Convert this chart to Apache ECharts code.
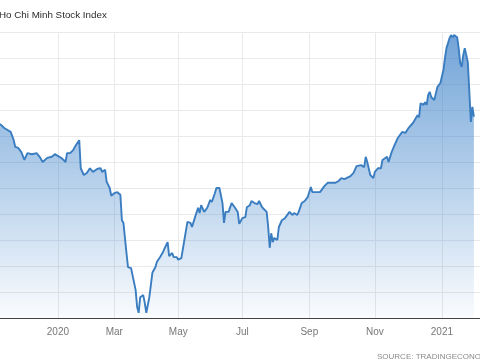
<!DOCTYPE html>
<html>
<head>
<meta charset="utf-8">
<script src="https://cdn.jsdelivr.net/npm/echarts@6/dist/echarts.min.js"></script>
<style>
html,body{margin:0;padding:0;background:#fff;}
#chart{width:480px;height:360px;}
</style>
</head>
<body>
<div id="chart"></div>
<script>
// ---- data ----
const sampleDates = [
'2019-11-08','2019-11-13','2019-11-19','2019-11-20','2019-11-21','2019-11-22','2019-11-26','2019-11-28',
'2019-12-02','2019-12-04','2019-12-09','2019-12-10','2019-12-12','2019-12-16','2019-12-18','2019-12-23',
'2019-12-26','2019-12-30','2019-12-31','2020-01-03','2020-01-07','2020-01-09','2020-01-10','2020-01-14',
'2020-01-16','2020-01-20','2020-01-22','2020-01-30','2020-01-31','2020-02-03','2020-02-05','2020-02-07',
'2020-02-11','2020-02-14','2020-02-18','2020-02-19','2020-02-21','2020-02-24','2020-02-25','2020-02-26',
'2020-02-27','2020-02-28','2020-03-02','2020-03-04','2020-03-06','2020-03-09','2020-03-10','2020-03-12',
'2020-03-13','2020-03-16','2020-03-17','2020-03-20','2020-03-23','2020-03-24','2020-03-25','2020-03-27',
'2020-03-30','2020-03-31','2020-04-01','2020-04-03','2020-04-07','2020-04-09','2020-04-10','2020-04-14',
'2020-04-16','2020-04-20','2020-04-21','2020-04-22','2020-04-24','2020-04-27','2020-04-29','2020-05-04',
'2020-05-06','2020-05-08','2020-05-12','2020-05-14','2020-05-15','2020-05-19','2020-05-21','2020-05-22',
'2020-05-25','2020-05-27','2020-05-29','2020-06-02','2020-06-03','2020-06-05','2020-06-08','2020-06-10',
'2020-06-12','2020-06-15','2020-06-16','2020-06-18','2020-06-22','2020-06-24','2020-06-26','2020-06-29',
'2020-07-01','2020-07-03','2020-07-06','2020-07-08','2020-07-09','2020-07-13','2020-07-15','2020-07-16',
'2020-07-20','2020-07-21','2020-07-23','2020-07-24','2020-07-27','2020-07-28','2020-07-29','2020-07-30',
'2020-08-03','2020-08-04','2020-08-06','2020-08-10','2020-08-11','2020-08-13','2020-08-17','2020-08-18',
'2020-08-20','2020-08-21','2020-08-25','2020-08-27','2020-08-31','2020-09-03','2020-09-04','2020-09-07',
'2020-09-11','2020-09-16','2020-09-18','2020-09-22','2020-09-23','2020-09-25','2020-09-29','2020-10-01',
'2020-10-05','2020-10-09','2020-10-13','2020-10-15','2020-10-20','2020-10-22','2020-10-23','2020-10-26',
'2020-10-28','2020-10-30','2020-11-02','2020-11-04','2020-11-06','2020-11-09','2020-11-12','2020-11-13',
'2020-11-17','2020-11-19','2020-11-23','2020-11-24','2020-11-26','2020-11-30','2020-12-02','2020-12-07',
'2020-12-10','2020-12-11','2020-12-14','2020-12-16','2020-12-17','2020-12-18','2020-12-21','2020-12-22',
'2020-12-23','2020-12-25','2020-12-29','2020-12-30','2020-12-31','2021-01-05','2021-01-06','2021-01-07',
'2021-01-11','2021-01-12','2021-01-13','2021-01-14','2021-01-18','2021-01-19','2021-01-20','2021-01-21',
'2021-01-22','2021-01-25','2021-01-26','2021-01-27','2021-01-28','2021-01-29','2021-02-01','2021-02-02'
];
const sampleValues = [
1023,1015,1008,1006,992,979,977,969,
954,967,965,967,967,960,950,958,
960,965,967,960,956,950,967,967,
973,983,992,938,935,925,929,938,
931,937,938,931,935,912,906,900,
885,883,890,892,887,838,833,775,
748,748,746,704,671,660,690,694,
679,660,662,690,737,748,758,767,
777,790,796,769,775,767,767,762,
765,800,835,833,825,844,862,852,
867,854,862,877,873,890,900,900,
871,833,854,854,871,863,854,831,
842,844,863,867,875,871,869,875,
863,860,854,825,785,813,796,804,
800,825,838,842,844,854,848,852,
848,854,871,875,883,902,892,890,
892,904,910,910,912,910,913,919,
917,923,929,942,944,940,960,950,
925,919,931,938,938,954,960,950,
969,983,996,1000,1008,1006,1015,1025,
1040,1036,1063,1060,1065,1060,1079,1085,
1075,1069,1094,1098,1102,1127,1150,1169,
1188,1194,1190,1194,1190,1169,1140,1133,
1156,1169,1167,1142,1085,1027,1056,1037
];
// x-axis tick labels shown at the first trading day of these months
const monthLabels = {'2020-01':'2020','2020-03':'Mar','2020-05':'May','2020-07':'Jul','2020-09':'Sep','2020-11':'Nov','2021-01':'2021'};
const axisStart = '2019-11-08', axisEnd = '2021-02-08';
const holidays = ['2020-01-01','2020-01-23','2020-01-24','2020-01-27','2020-01-28','2020-01-29',
  '2020-04-02','2020-04-30','2020-05-01','2020-09-02','2021-01-01'];
const titleText = 'Ho Chi Minh Stock Index';
const sourceText = 'SOURCE: TRADINGECONOMICS.COM';

// ---- build the trading-day category axis ----
function fmt(d){return d.toISOString().slice(0,10);}
const tradingDays = [];
for (let d = new Date(axisStart+'T00:00:00Z'); fmt(d) <= axisEnd; d.setUTCDate(d.getUTCDate()+1)) {
  const wd = d.getUTCDay();
  const s = fmt(d);
  if (wd !== 0 && wd !== 6 && holidays.indexOf(s) < 0) tradingDays.push(s);
}
function isLabelDay(idx){
  if (idx === 0) return false;
  const m = tradingDays[idx].slice(0,7);
  return m !== tradingDays[idx-1].slice(0,7) && monthLabels[m] !== undefined;
}
const seriesData = sampleDates.map((d,i)=>[tradingDays.indexOf(d), sampleValues[i]]);

const chart = echarts.init(document.getElementById('chart'), null, {renderer:'canvas'});
chart.setOption({
  animation:false,
  backgroundColor:'#ffffff',
  graphic:[{
    type:'text', left:-1, top:10,
    style:{text:titleText, fontFamily:'Liberation Sans, Arial, sans-serif', fontSize:9.8, fill:'#2a2a2a'}
  },{
    type:'text', left:377, top:353,
    style:{text:sourceText, fontFamily:'Liberation Sans, Arial, sans-serif', fontSize:8, fill:'#8a8a8a'}
  }],
  grid:{left:0, right:0, top:32, bottom:42, containLabel:false},
  xAxis:{
    type:'category', data:tradingDays, boundaryGap:false,
    axisLine:{show:true, lineStyle:{color:'#444', width:1}},
    axisTick:{show:false},
    axisLabel:{
      interval:(idx)=>isLabelDay(idx),
      formatter:(v)=>monthLabels[v.slice(0,7)] || '',
      color:'#777', fontSize:10, fontFamily:'Liberation Sans, Arial, sans-serif', margin:9
    },
    splitLine:{show:true, interval:(idx)=>isLabelDay(idx), lineStyle:{color:'#e9e9e9', width:1}}
  },
  yAxis:{
    type:'value', min:650, max:1200, interval:50,
    axisLabel:{show:false}, axisLine:{show:false}, axisTick:{show:false},
    splitLine:{show:true, lineStyle:{color:'#e9e9e9', width:1}}
  },
  series:[{
    type:'line', data:seriesData, showSymbol:false, smooth:false,
    lineStyle:{color:'#3a7dc0', width:1.9},
    areaStyle:{
      color:new echarts.graphic.LinearGradient(0,0,0,1,[
        {offset:0, color:'rgba(55,125,198,1)'},
        {offset:0.5, color:'rgba(60,130,202,0.55)'},
        {offset:1, color:'rgba(60,130,202,0.04)'}
      ])
    }
  }]
});
</script>
</body>
</html>
